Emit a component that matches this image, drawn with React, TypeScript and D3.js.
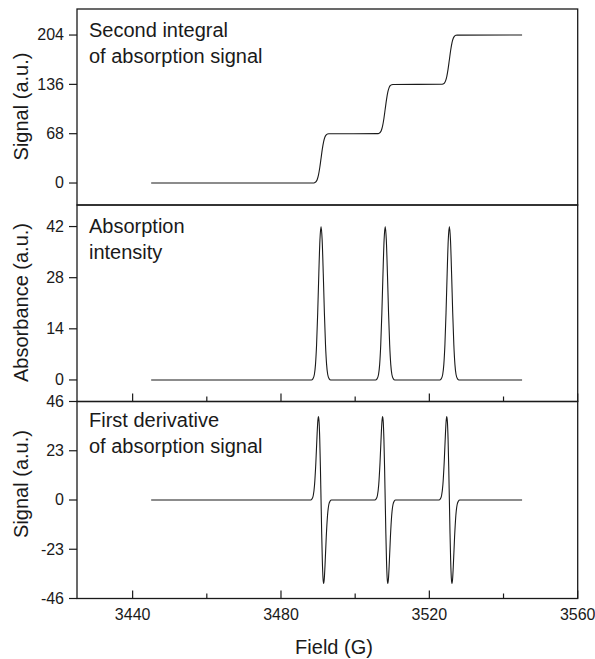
import React from 'react';
import * as d3 from 'd3';

const xMajorTicks = [3440, 3480, 3520, 3560];
const xMinorTicks = [3460, 3500, 3540];
const integralTicks = [0, 68, 136, 204];
const absorptionTicks = [0, 14, 28, 42];
const derivativeTicks = [-46, -23, 0, 23, 46];

const integralField = [
  3445,
  3488.7, 3489.05, 3489.4, 3489.75, 3490.1, 3490.45, 3490.8, 3491.15, 3491.5, 3491.85, 3492.2, 3492.55, 3492.9,
  3506.0, 3506.35, 3506.7, 3507.05, 3507.4, 3507.75, 3508.1, 3508.45, 3508.8, 3509.15, 3509.5, 3509.85, 3510.2,
  3523.3, 3523.65, 3524.0, 3524.35, 3524.7, 3525.05, 3525.4, 3525.75, 3526.1, 3526.45, 3526.8, 3527.15, 3527.5,
  3545,
];
const integralSignal = [
  0,
  0.1, 0.4, 1.5, 4.5, 10.8, 21, 34, 47, 57.2, 63.5, 66.5, 67.6, 67.9,
  68.1, 68.4, 69.5, 72.5, 78.8, 89, 102, 115, 125.2, 131.5, 134.5, 135.6, 135.9,
  136.1, 136.4, 137.5, 140.5, 146.8, 157, 170, 183, 193.2, 199.5, 202.5, 203.6, 203.9,
  204,
];

const absorptionField = [
  3445,
  3488.2, 3488.6, 3489.0, 3489.3, 3489.6, 3489.9, 3490.2, 3490.5, 3490.8, 3491.1, 3491.4, 3491.7, 3492.0, 3492.3, 3492.6, 3493.0, 3493.4,
  3505.5, 3505.9, 3506.3, 3506.6, 3506.9, 3507.2, 3507.5, 3507.8, 3508.1, 3508.4, 3508.7, 3509.0, 3509.3, 3509.6, 3509.9, 3510.3, 3510.7,
  3522.8, 3523.2, 3523.6, 3523.9, 3524.2, 3524.5, 3524.8, 3525.1, 3525.4, 3525.7, 3526.0, 3526.3, 3526.6, 3526.9, 3527.2, 3527.6, 3528.0,
  3545,
];
const absorptionSignal = [
  0,
  0, 0.3, 1.5, 4.2, 9.7, 18.4, 29.1, 38.3, 42, 38.3, 29.1, 18.4, 9.7, 4.2, 1.5, 0.3, 0,
  0, 0.3, 1.5, 4.2, 9.7, 18.4, 29.1, 38.3, 42, 38.3, 29.1, 18.4, 9.7, 4.2, 1.5, 0.3, 0,
  0, 0.3, 1.5, 4.2, 9.7, 18.4, 29.1, 38.3, 42, 38.3, 29.1, 18.4, 9.7, 4.2, 1.5, 0.3, 0,
  0,
];

const derivativeField = [
  3445,
  3488.0, 3488.35, 3488.7, 3489.05, 3489.4, 3489.75, 3489.925, 3490.1, 3490.275, 3490.45, 3490.625, 3490.8,
  3490.975, 3491.15, 3491.325, 3491.5, 3491.675, 3491.85, 3492.2, 3492.55, 3492.9, 3493.25, 3493.6,
  3505.3, 3505.65, 3506.0, 3506.35, 3506.7, 3507.05, 3507.225, 3507.4, 3507.575, 3507.75, 3507.925, 3508.1,
  3508.275, 3508.45, 3508.625, 3508.8, 3508.975, 3509.15, 3509.5, 3509.85, 3510.2, 3510.55, 3510.9,
  3522.6, 3522.95, 3523.3, 3523.65, 3524.0, 3524.35, 3524.525, 3524.7, 3524.875, 3525.05, 3525.225, 3525.4,
  3525.575, 3525.75, 3525.925, 3526.1, 3526.275, 3526.45, 3526.8, 3527.15, 3527.5, 3527.85, 3528.2,
  3545,
];
const derivativeSignal = [
  0,
  0, 0.5, 2.1, 7.1, 17.4, 31.3, 36.8, 39, 36.4, 28.4, 15.6, 0,
  -15.6, -28.4, -36.4, -39, -36.8, -31.3, -17.4, -7.1, -2.1, -0.5, 0,
  0, 0.5, 2.1, 7.1, 17.4, 31.3, 36.8, 39, 36.4, 28.4, 15.6, 0,
  -15.6, -28.4, -36.4, -39, -36.8, -31.3, -17.4, -7.1, -2.1, -0.5, 0,
  0, 0.5, 2.1, 7.1, 17.4, 31.3, 36.8, 39, 36.4, 28.4, 15.6, 0,
  -15.6, -28.4, -36.4, -39, -36.8, -31.3, -17.4, -7.1, -2.1, -0.5, 0,
  0,
];

const FONT = "'Liberation Sans', Arial, Helvetica, sans-serif";
const INK = '#1a1a1a';

export default function App() {
  const W = 595;
  const H = 659;
  const left = 77;
  const right = 577.7;
  const x = d3.scaleLinear().domain([3425, 3560]).range([left, right]);

  const panels = [
    {
      top: 9, bottom: 205, domain: [-30.3, 239.9], ticks: integralTicks,
      field: integralField, signal: integralSignal, title: 'Signal (a.u.)', titleY: 106.5,
      labels: ['Second integral', 'of absorption signal'], labelY: 36.5, xTicks: false,
    },
    {
      top: 205, bottom: 401.5, domain: [-5.9, 47.9], ticks: absorptionTicks,
      field: absorptionField, signal: absorptionSignal, title: 'Absorbance (a.u.)', titleY: 302.5,
      labels: ['Absorption', 'intensity'], labelY: 233, xTicks: true,
    },
    {
      top: 401.5, bottom: 598.5, domain: [-46, 46], ticks: derivativeTicks,
      field: derivativeField, signal: derivativeSignal, title: 'Signal (a.u.)', titleY: 484,
      labels: ['First derivative', 'of absorption signal'], labelY: 427, xTicks: true,
    },
  ];

  return (
    <svg width={W} height={H} style={{ position: 'absolute', left: 0, top: 0, background: '#fff' }}
      fontFamily={FONT}>
      <rect x={0} y={0} width={W} height={H} fill="#fff" />
      {panels.map((p, i) => {
        const y = d3.scaleLinear().domain(p.domain).range([p.bottom, p.top]);
        const pts: [number, number][] = p.field.map((f, k) => [f, p.signal[k]]);
        const line = d3.line<[number, number]>()
          .x(d => x(d[0]))
          .y(d => y(d[1]))
          .curve(d3.curveMonotoneX);
        return (
          <g key={i}>
            <path d={line(pts) ?? ''} fill="none" stroke={INK} strokeWidth={1.1} strokeLinejoin="round" />
            <rect x={left} y={p.top} width={right - left} height={p.bottom - p.top}
              fill="none" stroke={INK} strokeWidth={1.3} />
            {p.ticks.map(t => (
              <g key={t}>
                <line x1={left - 8} x2={left} y1={y(t)} y2={y(t)} stroke={INK} strokeWidth={1.2} />
                <text x={64} y={y(t)} dy="0.34em" textAnchor="end" fontSize={16} fill={INK}>{t}</text>
              </g>
            ))}
            {p.xTicks && xMajorTicks.map(t => (
              <line key={'M' + t} x1={x(t)} x2={x(t)} y1={p.bottom} y2={p.bottom - 8} stroke={INK} strokeWidth={1.2} />
            ))}
            {p.xTicks && xMinorTicks.map(t => (
              <line key={'m' + t} x1={x(t)} x2={x(t)} y1={p.bottom} y2={p.bottom - 5} stroke={INK} strokeWidth={1.2} />
            ))}
            <text transform={`translate(28,${p.titleY}) rotate(-90)`} textAnchor="middle" fontSize={20} fill={INK}>
              {p.title}
            </text>
            {p.labels.map((l, k) => (
              <text key={k} x={89} y={p.labelY + k * 26} fontSize={20} fill={INK}>{l}</text>
            ))}
          </g>
        );
      })}
      {xMajorTicks.map(t => (
        <text key={t} x={x(t)} y={620} textAnchor="middle" fontSize={16} fill={INK}>{t}</text>
      ))}
      <text x={334} y={654} textAnchor="middle" fontSize={20} fill={INK}>Field (G)</text>
    </svg>
  );
}
